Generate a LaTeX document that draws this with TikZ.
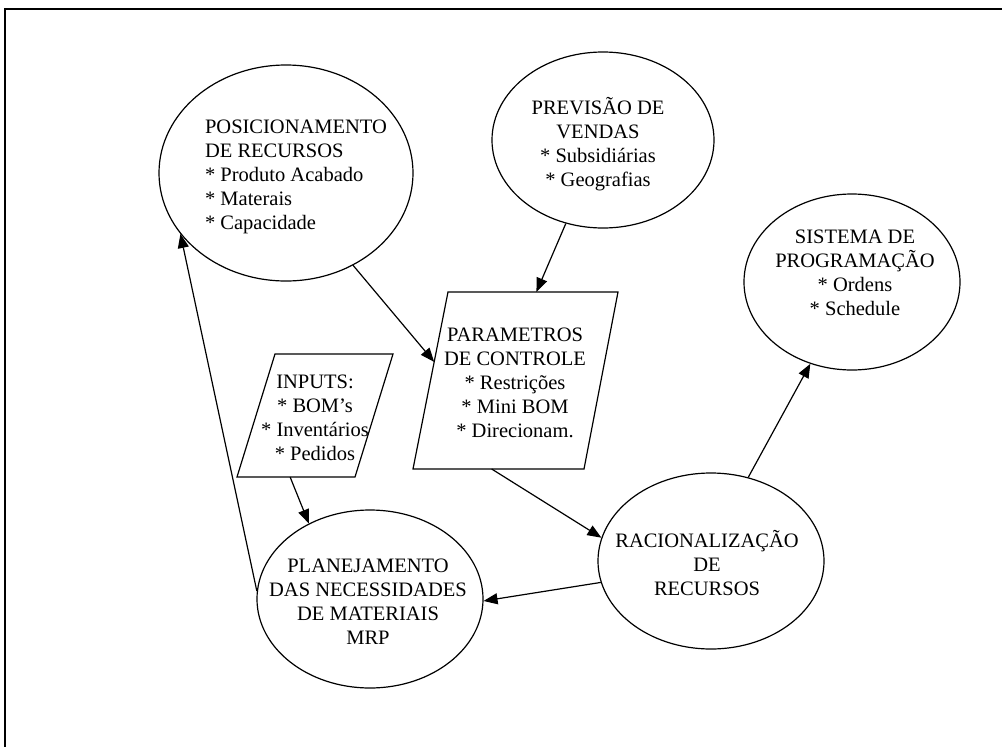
\documentclass[tikz,border=0pt]{standalone}
\usepackage{fontspec}
\setmainfont{Liberation Serif}
\usetikzlibrary{shapes.geometric,arrows.meta,calc}
\begin{document}
\begin{tikzpicture}[x=1pt,y=-1pt,
  bubble/.style={draw,ellipse,line width=1.2pt,inner sep=0pt},
  label/.style={font=\fontsize{20.5}{24}\selectfont,inner sep=0pt},
  slanted/.style={draw,line width=1.2pt,line join=miter},
  arr/.style={line width=1.2pt,-{Triangle[length=14pt,width=11pt]}}]
\useasboundingbox (0,0) rectangle (1002,747);
\clip (0,0) rectangle (1002,747);
% outer frame
\draw[line width=2pt] (5,9) rectangle (1030,780);

% ellipses
\node[bubble,minimum width=254pt,minimum height=216pt] (pos)  at (286,173) {};
\node[bubble,minimum width=222pt,minimum height=176pt] (prev) at (603,140) {};
\node[bubble,minimum width=216pt,minimum height=176pt] (sis)  at (852,282) {};
\node[bubble,minimum width=226pt,minimum height=176pt] (rac)  at (711,561) {};
\node[bubble,minimum width=226pt,minimum height=178pt] (plan) at (370,599) {};

% parallelograms
\coordinate (parTL) at (448,292); \coordinate (parTR) at (618,292);
\coordinate (parBR) at (584,469); \coordinate (parBL) at (413,469);
\draw[slanted] (parTL) -- (parTR) -- (parBR) -- (parBL) -- cycle;
\coordinate (inTL) at (275,354); \coordinate (inTR) at (393,354);
\coordinate (inBR) at (355,477); \coordinate (inBL) at (237,477);
\draw[slanted] (inTL) -- (inTR) -- (inBR) -- (inBL) -- cycle;

% texts
\node[label,align=left] (posT) at (296,177) {POSICIONAMENTO\\DE RECURSOS\\* Produto Acabado\\* Materais\\* Capacidade};
\node[label,align=center] (prevT) at (598,144) {PREVISÃO DE\\VENDAS\\* Subsidiárias\\* Geografias};
\node[label,align=center] (sisT) at (855,273) {SISTEMA DE\\PROGRAMAÇÃO\\* Ordens\\* Schedule};
\node[label,align=center] (racT) at (707,563) {RACIONALIZAÇÃO\\DE\\RECURSOS};
\node[label,align=center] (planT) at (368,602) {PLANEJAMENTO\\DAS NECESSIDADES\\DE MATERIAIS\\MRP};
\node[label,align=center] (parT) at (515,383) {PARAMETROS\\DE CONTROLE\\* Restrições\\* Mini BOM\\* Direcionam.};
\node[label,align=center] (inT) at (315,418) {INPUTS:\\* BOM’s\\* Inventários\\* Pedidos};

% connection points on the parallelograms
\coordinate (parIn)  at ($(parTL)!0.395!(parBL)$);
\coordinate (parTop) at ($(parTL)!0.52!(parTR)$);
\coordinate (parOut) at ($(parBL)!0.46!(parBR)$);
\coordinate (inOut)  at ($(inBL)!0.45!(inBR)$);

% connectors
\draw[arr] (pos.-54) -- (parIn);
\draw[arr] (prev.-114) -- (parTop);
\draw[arr] (inOut) -- (plan.129);
\draw[arr] (parOut) -- (rac.168);
\draw[arr] (rac.191) -- (plan.-1);
\draw[arr] (rac.66) -- (sis.-117);
\draw[arr] (plan.176) -- (pos.-150);
\end{tikzpicture}
\end{document}
